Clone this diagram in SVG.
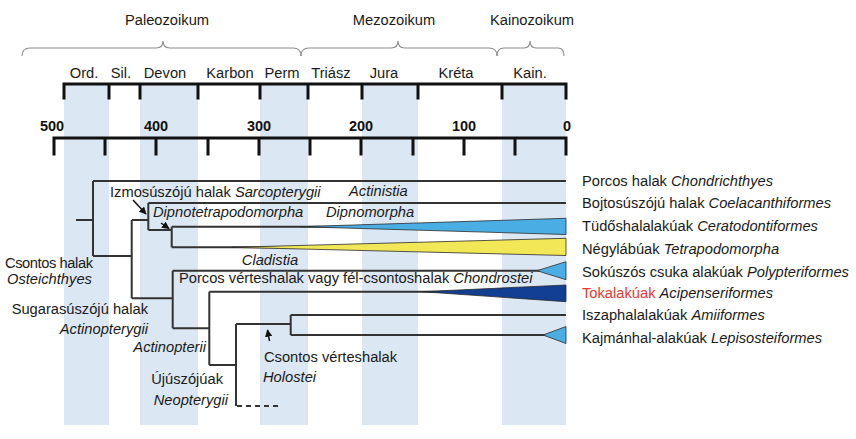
<svg xmlns="http://www.w3.org/2000/svg" width="856" height="439" viewBox="0 0 856 439">
<defs>
<style>
.bg{fill:#ffffff}
.stripe{fill:#dbe7f3}
.brace{fill:none;stroke:#8c8c8c;stroke-width:1.2}
.axis{fill:none;stroke:#111;stroke-width:3;stroke-linecap:square}
.t{font-family:"Liberation Sans",Arial,sans-serif;font-size:14.7px;fill:#1a1a1a}
.num{font-family:"Liberation Sans",Arial,sans-serif;font-size:14.5px;font-weight:bold;fill:#111;text-anchor:middle}
.mid{text-anchor:middle}
.end{text-anchor:end}
.i{font-style:italic}
.red{fill:#e8392f}
.br{fill:none;stroke:#333;stroke-width:2}
.dash{fill:none;stroke:#333;stroke-width:2;stroke-dasharray:5,4}
.tri{stroke:#2b2b2b;stroke-width:0.8}
.arr{fill:none;stroke:#111;stroke-width:1.5}
</style>
<marker id="ah" viewBox="0 0 10 10" refX="9" refY="5" markerWidth="5" markerHeight="5" orient="auto">
<path d="M0,0 L10,5 L0,10 z" fill="#111"/>
</marker>
</defs>
<rect class="bg" x="0" y="0" width="856" height="439"/>
<g id="stripes">
<rect class="stripe" x="64" y="85" width="45" height="340"/>
<rect class="stripe" x="140" y="85" width="58" height="340"/>
<rect class="stripe" x="260" y="85" width="48" height="340"/>
<rect class="stripe" x="362" y="85" width="56" height="340"/>
<rect class="stripe" x="502" y="85" width="64" height="340"/>
</g>
<g id="eras">
<path class="brace" d="M22,56 Q22,48 30,48 L156,48 Q163,48 163,41 Q163,48 170,48 L293,48 Q301,48 301,56"/>
<path class="brace" d="M301,56 Q301,48 309,48 L391,48 Q398,48 398,41 Q398,48 405,48 L489,48 Q497,48 497,56"/>
<path class="brace" d="M497,56 Q497,48 504,48 L524,48 Q530,48 530,41 Q530,48 536,48 L558,48 Q564,48 564,56"/>
<text class="t mid" x="167" y="25">Paleozoikum</text>
<text class="t mid" x="394" y="25">Mezozoikum</text>
<text class="t mid" x="532" y="25">Kainozoikum</text>
</g>
<g id="periods">
<text class="t mid" x="84" y="78">Ord.</text>
<text class="t mid" x="121" y="78">Sil.</text>
<text class="t mid" x="165" y="78">Devon</text>
<text class="t mid" x="230" y="78">Karbon</text>
<text class="t mid" x="282" y="78">Perm</text>
<text class="t mid" x="331" y="78">Triász</text>
<text class="t mid" x="384" y="78">Jura</text>
<text class="t mid" x="456" y="78">Kréta</text>
<text class="t mid" x="530" y="78">Kain.</text>
<path class="axis" d="M64,98 V84 H566 V98 M109,84 V98 M140,84 V98 M198,84 V98 M260,84 V98 M308,84 V98 M362,84 V98 M418,84 V98 M502,84 V98"/>
</g>
<g id="scale">
<text class="num" x="52" y="131">500</text>
<text class="num" x="156" y="131">400</text>
<text class="num" x="259" y="131">300</text>
<text class="num" x="361" y="131">200</text>
<text class="num" x="464" y="131">100</text>
<text class="num" x="567" y="131">0</text>
<path class="axis" d="M54,154 V138 H566 V154 M105,138 V154 M156,138 V154 M208,138 V154 M259,138 V154 M310,138 V154 M361,138 V154 M413,138 V154 M464,138 V154 M515,138 V154"/>
</g>
<g id="connectors">
<path class="br" d="M76,220 H93 M93,181 V256 M93,181 H566 M93,256 H131.7 M131.7,220 V298.3 M131.7,220 H148.3 M148.3,203 V230 M148.3,203 H566 M148.3,230 H171.7 M171.7,226.7 V247.3 M171.7,226.7 H566 M171.7,247.3 H566 M131.7,298.3 H172.7 M172.7,270.7 V328.3 M172.7,270.7 H566 M172.7,328.3 H209.3 M209.3,291.7 V365 M209.3,291.7 H566 M209.3,365 H236 M236,324 V406 M236,324 H290.7 M290.7,315 V335 M290.7,315 H566 M290.7,335 H566"/>
<path class="dash" d="M237,406 H278"/>
<path class="arr" d="M133,200 L146,214" marker-end="url(#ah)"/>
<path class="arr" d="M161,223 L169,228.5" marker-end="url(#ah)"/>
<path class="arr" d="M269.5,341 L267.5,330" marker-end="url(#ah)"/>
</g>
<g id="wedges">
<polygon class="tri" points="300,226.7 566,218.3 566,234.5" fill="#4aaee5"/>
<polygon class="tri" points="232,247.3 566,238.3 566,255.5" fill="#f2e857"/>
<polygon class="tri" points="537,270.7 566,261.7 566,279.7" fill="#4aaee5"/>
<polygon class="tri" points="422,291.7 566,285 566,301.7" fill="#123f91"/>
<polygon class="tri" points="543,335 566,326.5 566,343.5" fill="#4aaee5"/>
</g>
<g id="n-chondrichthyes"><text class="t" x="582" y="185.5">Porcos halak <tspan class="i">Chondrichthyes</tspan></text></g>
<g id="n-coelacanthiformes"><text class="t" x="582" y="208">Bojtosúszójú halak <tspan class="i">Coelacanthiformes</tspan></text></g>
<g id="n-ceratodontiformes"><text class="t" x="582" y="230.5">Tüdőshalalakúak <tspan class="i">Ceratodontiformes</tspan></text></g>
<g id="n-tetrapodomorpha"><text class="t" x="582" y="254">Négylábúak <tspan class="i">Tetrapodomorpha</tspan></text></g>
<g id="n-polypteriformes"><text class="t" x="582" y="276.5">Sokúszós csuka alakúak <tspan class="i">Polypteriformes</tspan></text></g>
<g id="n-acipenseriformes"><text class="t" x="582" y="298"><tspan class="red">Tokalakúak</tspan> <tspan class="i">Acipenseriformes</tspan></text></g>
<g id="n-amiiformes"><text class="t" x="582" y="320">Iszaphalalakúak <tspan class="i">Amiiformes</tspan></text></g>
<g id="n-lepisosteiformes"><text class="t" x="582" y="343">Kajmánhal-alakúak <tspan class="i">Lepisosteiformes</tspan></text></g>
<g id="n-osteichthyes"><text class="t" x="5" y="267.5" textLength="88">Csontos halak</text><text class="t i" x="7" y="284">Osteichthyes</text></g>
<g id="n-sarcopterygii"><text class="t" x="110" y="196.5">Izmosúszójú halak <tspan class="i">Sarcopterygii</tspan></text></g>
<g id="n-actinistia"><text class="t i" x="349" y="195.5">Actinistia</text></g>
<g id="n-dipnotetrapodomorpha"><text class="t i" x="153" y="216.5">Dipnotetrapodomorpha</text></g>
<g id="n-dipnomorpha"><text class="t i" x="326" y="216.5">Dipnomorpha</text></g>
<g id="n-cladistia"><text class="t i mid" x="270" y="264.5">Cladistia</text></g>
<g id="n-chondrostei"><text class="t" x="179" y="283">Porcos vérteshalak vagy fél-csontoshalak <tspan class="i">Chondrostei</tspan></text></g>
<g id="n-actinopterygii"><text class="t end" x="148" y="314">Sugarasúszójú halak</text><text class="t i end" x="148" y="334">Actinopterygii</text></g>
<g id="n-actinopterii"><text class="t i end" x="206" y="352">Actinopterii</text></g>
<g id="n-neopterygii"><text class="t end" x="223" y="384">Újúszójúak</text><text class="t i end" x="228" y="405">Neopterygii</text></g>
<g id="n-holostei"><text class="t" x="264" y="362">Csontos vérteshalak</text><text class="t i" x="263" y="382">Holostei</text></g>
</svg>
